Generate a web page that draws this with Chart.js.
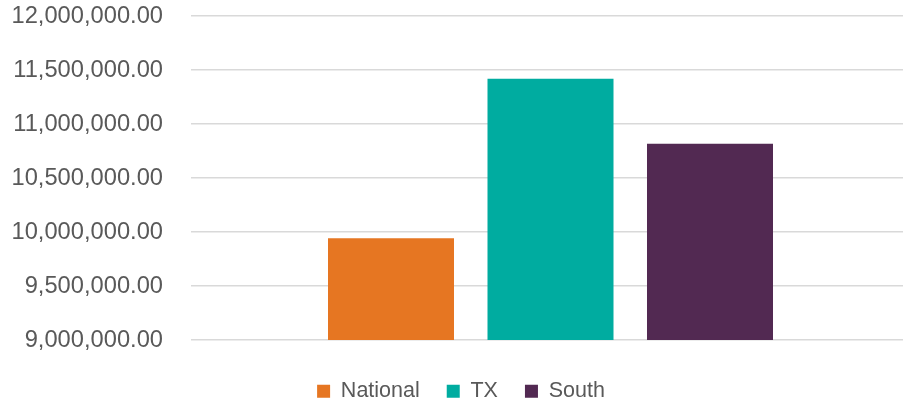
<!DOCTYPE html>
<html>
<head>
<meta charset="utf-8">
<script src="https://cdn.jsdelivr.net/npm/chart.js@4"></script>
<style>
  html, body { margin: 0; padding: 0; background: #fff; overflow: hidden; }
  #wrap { width: 910px; height: 404px; }
</style>
</head>
<body>
<div id="wrap"><canvas id="chart"></canvas></div>
<script>
const categories = [""];
const seriesNames = ["National", "TX", "South"];
const seriesValues = [9942000, 11418000, 10818000];
const seriesColors = ["#E67622", "#00ACA0", "#522952"];
const yTicks = [9000000, 9500000, 10000000, 10500000, 11000000, 11500000, 12000000];

Chart.defaults.font.family = "'Liberation Sans', Arial, sans-serif";
Chart.defaults.color = "#595959";

const datasets = seriesNames.map((name, i) => ({
  label: name,
  data: [seriesValues[i]],
  backgroundColor: seriesColors[i],
  categoryPercentage: 0.6655,
  barPercentage: 0.79,
}));

new Chart(document.getElementById("chart"), {
  type: "bar",
  data: { labels: categories, datasets },
  options: {
    responsive: true,
    maintainAspectRatio: false,
    animation: false,
    layout: { padding: { left: 12, top: 16, right: 0, bottom: -8 } },
    plugins: {
      tooltip: { enabled: false },
      legend: {
        position: "bottom",
        labels: {
          boxWidth: 13,
          boxHeight: 13,
          padding: 27,
          font: { size: 21.5 },
          color: "#595959",
        },
      },
    },
    scales: {
      x: {
        grid: { display: false, drawTicks: false },
        border: { display: false },
        ticks: { display: false },
        afterFit: (s) => { s.height = 13.5; },
      },
      y: {
        min: yTicks[0],
        max: yTicks[yTicks.length - 1],
        afterBuildTicks: (s) => { s.ticks = yTicks.map((v) => ({ value: v })); },
        afterFit: (s) => { s.paddingTop = 0; s.paddingBottom = 0; s.width = 179; },
        grid: { color: "#D9D9D9", lineWidth: 1.5, drawTicks: false },
        border: { display: false },
        ticks: {
          padding: 28,
          font: { size: 23.7 },
          color: "#595959",
          callback: (v) => Number(v).toLocaleString("en-US", { minimumFractionDigits: 2, maximumFractionDigits: 2 }),
        },
      },
    },
  },
});
</script>
</body>
</html>
